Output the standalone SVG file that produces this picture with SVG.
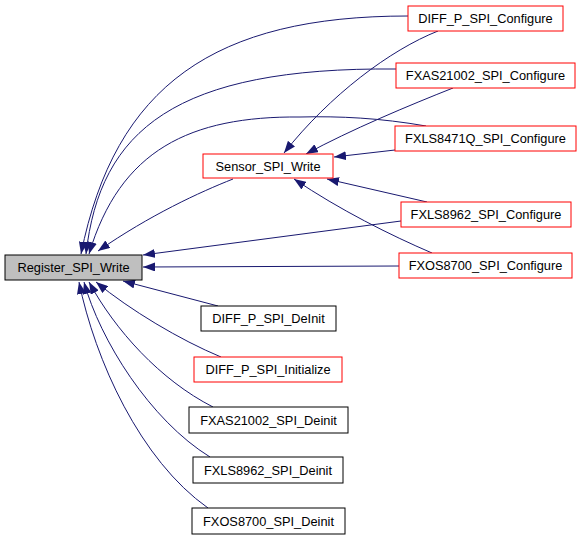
<svg xmlns="http://www.w3.org/2000/svg" width="581" height="540" viewBox="0 0 581 540">
<style>
.n rect{fill:#fff;stroke:#000;stroke-width:1}
.n.r rect{stroke:#ff0000}
.n.g rect{fill:#bfbfbf}
.n text{font-family:"Liberation Sans",Arial,sans-serif;font-size:12.8px;fill:#000;text-anchor:middle}
#edges path{fill:none;stroke:#191970;stroke-width:1;marker-end:url(#ah)}
</style>
<defs>
<marker id="ah" viewBox="0 0 12 9" refX="12" refY="4.5" markerWidth="12" markerHeight="9" markerUnits="userSpaceOnUse" orient="auto">
<path d="M0,0 L12,4.5 L0,9 z" fill="#191970"/>
</marker>
</defs>
<rect width="581" height="540" fill="#fff"/>
<g id="edges">
<path d="M408,16 C215,16 115,85 81,254"/>
<path d="M396,69 C175,67 100,130 86,254"/>
<path d="M426,126 C380,118 340,116 300,117 C190,116 120,150 89,254"/>
<path d="M233,179 C200,192 150,215 98,251"/>
<path d="M401,221 L143,255"/>
<path d="M399,266 L143,267"/>
<path d="M438,31 C390,50 330,95 284,153"/>
<path d="M453,88 C410,105 350,130 306,154"/>
<path d="M395,150 L334,157"/>
<path d="M427,202 L327,179"/>
<path d="M432,253 C390,235 340,210 294,179"/>
<path d="M218,306 L123,281"/>
<path d="M221,357 C180,340 130,310 96,282"/>
<path d="M213,407 C160,380 115,330 89,282"/>
<path d="M210,457 C150,420 100,340 84,282"/>
<path d="M208,508 C140,460 95,360 79,282"/>
</g>
<g id="register_spi_write" class="n g"><rect x="5" y="255" width="137" height="25"/><text x="73.5" y="272">Register_SPI_Write</text></g>
<g id="sensor_spi_write" class="n r"><rect x="203" y="154" width="130" height="24"/><text x="268" y="171">Sensor_SPI_Write</text></g>
<g id="diff_p_spi_configure" class="n r"><rect x="408" y="6" width="155" height="25"/><text x="485.5" y="23">DIFF_P_SPI_Configure</text></g>
<g id="fxas21002_spi_configure" class="n r"><rect x="396" y="63" width="179" height="25"/><text x="485.5" y="80">FXAS21002_SPI_Configure</text></g>
<g id="fxls8471q_spi_configure" class="n r"><rect x="395" y="126" width="181" height="25"/><text x="485.5" y="143">FXLS8471Q_SPI_Configure</text></g>
<g id="fxls8962_spi_configure" class="n r"><rect x="401" y="202" width="170" height="25"/><text x="486" y="219">FXLS8962_SPI_Configure</text></g>
<g id="fxos8700_spi_configure" class="n r"><rect x="399" y="253" width="173" height="25"/><text x="485.5" y="270">FXOS8700_SPI_Configure</text></g>
<g id="diff_p_spi_deinit" class="n"><rect x="201" y="306" width="135" height="25"/><text x="268.5" y="323">DIFF_P_SPI_DeInit</text></g>
<g id="diff_p_spi_initialize" class="n r"><rect x="194" y="357" width="148" height="25"/><text x="268" y="374">DIFF_P_SPI_Initialize</text></g>
<g id="fxas21002_spi_deinit" class="n"><rect x="189" y="407" width="159" height="26"/><text x="268.5" y="424.5">FXAS21002_SPI_Deinit</text></g>
<g id="fxls8962_spi_deinit" class="n"><rect x="193" y="457" width="150" height="26"/><text x="268" y="474.5">FXLS8962_SPI_Deinit</text></g>
<g id="fxos8700_spi_deinit" class="n"><rect x="192" y="508" width="153" height="26"/><text x="268.5" y="525.5">FXOS8700_SPI_Deinit</text></g>
</svg>
